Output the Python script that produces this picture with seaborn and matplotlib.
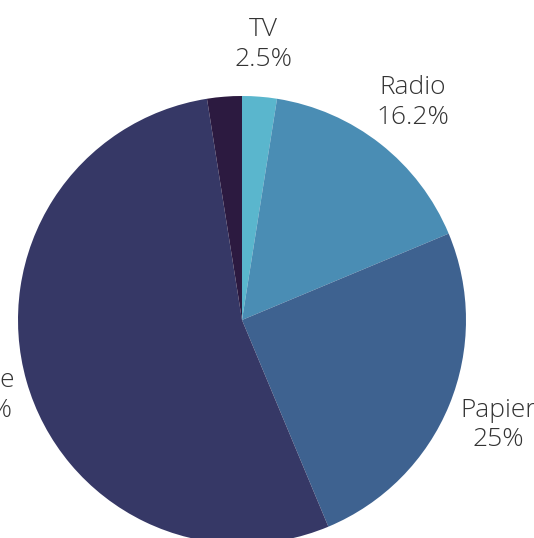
import matplotlib
matplotlib.use("Agg")
import seaborn as sns
from matplotlib import pyplot as plt

sns.set_theme(style="white")
plt.rcParams['font.family'] = ['Open Sans', 'DejaVu Sans']

# media share data, clockwise from the top
media = ["TV", "Radio", "Papier", "Online", ""]
share = [2.5, 16.2, 25.0, 53.8, 2.5]
colors = ["#5ab6cd", "#4a8db4", "#3e6290", "#363866", "#2c1a40"]

labels = []
for m, s in zip(media, share):
    if m == "":
        labels.append("")
    else:
        labels.append(m + "\n" + ("%g" % s) + "%")

fig = plt.figure(figsize=(5.34, 5.38), dpi=100)
ax = fig.add_axes([0, 0, 1, 1])

wedges, texts = ax.pie(share, labels=labels, colors=colors, startangle=90,
                       counterclock=False, center=(242, 218), radius=224,
                       labeldistance=1.235, frame=True,
                       wedgeprops=dict(linewidth=0),
                       textprops=dict(fontsize=19, color="#333333",
                                      fontweight="light", linespacing=1.25))
for t in texts:
    t.set_horizontalalignment("center")
    t.set_verticalalignment("center")
ax.set_xlim(0, 534)
ax.set_ylim(0, 538)
ax.set_aspect("equal")
ax.axis("off")

plt.savefig("out.png", dpi=100)
